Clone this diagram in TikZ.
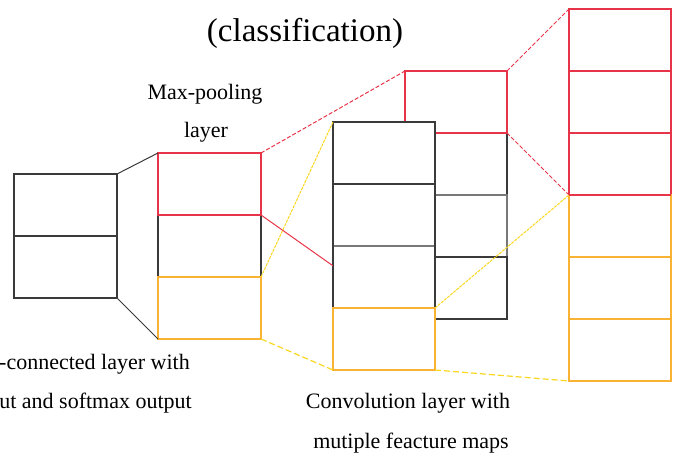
\documentclass[tikz,border=0pt]{standalone}
\usepackage{fontspec}
\setmainfont{Liberation Serif}
\usetikzlibrary{calc}

\definecolor{cellred}{RGB}{232,52,72}
\definecolor{cellorange}{RGB}{250,178,52}
\definecolor{linkyellow}{RGB}{250,214,30}
\definecolor{cellgray}{RGB}{58,58,58}
\definecolor{divgray}{RGB}{120,120,120}

\tikzset{
  cell/.style={draw=cellgray, line width=1.3pt, rectangle, inner sep=0pt, outer sep=0pt,
               minimum width=103pt, minimum height=62pt, anchor=north west},
  redcell/.style={cell, draw=cellred},
  orangecell/.style={cell, draw=cellorange},
  lbl/.style={inner sep=0pt, font=\fontsize{22}{26}\selectfont},
  blacklink/.style={draw=cellgray, line width=1pt},
  redlink/.style={draw=cellred, line width=1pt, dash pattern=on 4pt off 2pt},
  redsolid/.style={draw=cellred, line width=1pt},
  yellowfine/.style={draw=linkyellow, line width=1pt, dash pattern=on 3pt off 1pt},
  yellowdash/.style={draw=linkyellow, line width=1.2pt, dash pattern=on 6pt off 3pt}
}

\begin{document}
\begin{tikzpicture}[x=1pt, y=-1pt]
\useasboundingbox (0,0) rectangle (675,465);

% fully-connected layer
\node[cell] (fc1) at (14,174) {};
\node[cell] (fc2) at (14,236) {};

% max-pooling layer
\node[cell] (mp2) at (158,215) {};
\node[redcell] (mp1) at (158,153) {};
\node[orangecell] (mp3) at (158,277) {};

% convolution layer: back stack
\node[cell, minimum width=102pt] (bk2) at (405,133) {};
\node[cell, minimum width=102pt, draw=divgray] (bk3) at (405,195) {};
\node[cell, minimum width=102pt] (bk4) at (405,257) {};
\node[redcell, minimum width=102pt] (bk1) at (405,71) {};

% convolution layer: front stack (white, hides the back stack)
\node[cell, fill=white, minimum width=102pt] (fr1) at (333,122) {};
\node[cell, fill=white, minimum width=102pt] (fr2) at (333,184) {};
\node[cell, fill=white, minimum width=102pt] (fr3) at (333,246) {};
\draw[draw=divgray, line width=1.5pt] ([xshift=0.7pt]fr3.north west) -- ([xshift=-0.7pt]fr3.north east);
\node[orangecell, fill=white, minimum width=102pt] (fr4) at (333,308) {};

% output column
\node[redcell, minimum width=102pt] (rc1) at (569,9) {};
\node[redcell, minimum width=102pt] (rc2) at (569,71) {};
\node[redcell, minimum width=102pt] (rc3) at (569,133) {};
\node[orangecell, minimum width=102pt] (rc4) at (569,195) {};
\node[orangecell, minimum width=102pt] (rc5) at (569,257) {};
\node[orangecell, minimum width=102pt] (rc6) at (569,319) {};
\draw[draw=cellred, line width=1.3pt] (rc3.south west) -- (rc3.south east);

% connectors
\draw[blacklink] (fc1.north east) -- (mp1.north west);
\draw[blacklink] (fc2.south east) -- (mp3.south west);
\draw[redlink] (mp1.north east) -- (bk1.north west);
\draw[redsolid] (mp1.south east) -- ($(fr3.north west)!0.32!(fr3.south west)$);
\draw[yellowfine] (mp3.north east) -- (fr1.north west);
\draw[yellowdash] (mp3.south east) -- (fr4.south west);
\draw[redlink] (bk1.north east) -- (rc1.north west);
\draw[redlink] (bk1.south east) -- (rc3.south west);
\draw[yellowfine] (fr4.north east) -- (rc4.north west);
\draw[yellowdash] (fr4.south east) -- (rc6.south west);

% labels
\node[inner sep=0pt, anchor=base, font=\fontsize{33}{40}\selectfont] (title) at (305,42) {(classification)};
\node[lbl, anchor=base] (mpl1) at (205,100) {Max-pooling};
\node[lbl, anchor=base] (mpl2) at (206,138) {layer};
\node[lbl, anchor=base east] (fcl1) at (190,369) {-connected layer with};
\node[lbl, anchor=base east] (fcl2) at (192,408) {ut and softmax output};
\node[lbl, anchor=base] (cvl1) at (408,408) {Convolution layer with};
\node[lbl, anchor=base] (cvl2) at (411,448) {mutiple feacture maps};
\end{tikzpicture}
\end{document}
